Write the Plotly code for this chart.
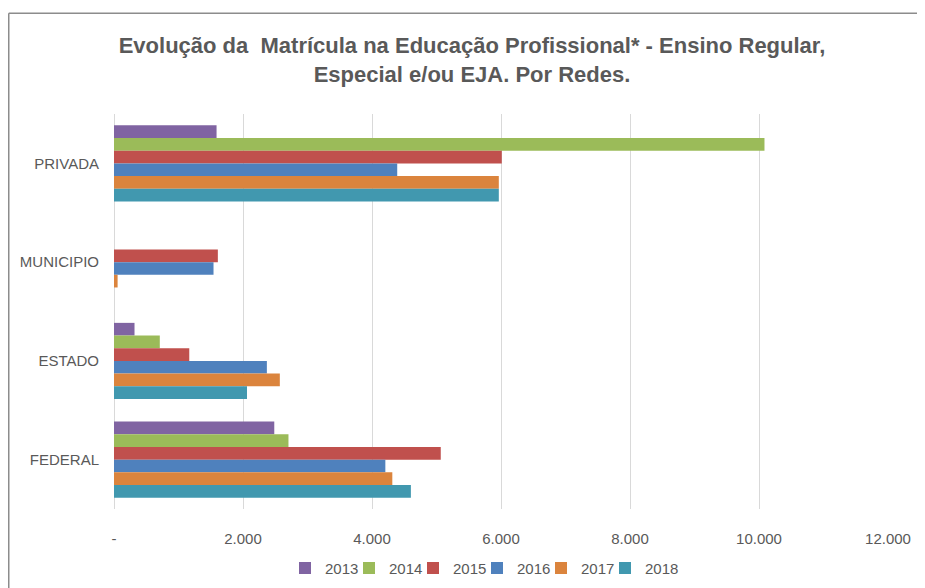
import plotly.graph_objects as go

categories = ["PRIVADA", "MUNICIPIO", "ESTADO", "FEDERAL"]
years = ["2013", "2014", "2015", "2016", "2017", "2018"]
v2013 = [1590, 0, 318, 2485]
v2014 = [10085, 0, 710, 2705]
v2015 = [6012, 1610, 1167, 5066]
v2016 = [4391, 1543, 2370, 4207]
v2017 = [5966, 56, 2571, 4315]
v2018 = [5966, 0, 2062, 4603]
series = [v2013, v2014, v2015, v2016, v2017, v2018]
colors = ["#8064A2", "#9BBB59", "#C0504D", "#4F81BD", "#DB843D", "#4198AF"]
tick_vals = [0, 2000, 4000, 6000, 8000, 10000, 12000]
tick_text = ["-", "2.000", "4.000", "6.000", "8.000", "10.000", "12.000"]

FONT = "Liberation Sans Narrow, Arial Narrow, Liberation Sans, sans-serif"
GREY = "#595959"

fig = go.Figure()
for name, vals, col in zip(years, series, colors):
    fig.add_trace(go.Bar(y=categories, x=vals, name=name, orientation="h",
                         marker=dict(color=col, line=dict(width=0))))
# invisible spacer legend entry (scatter, so it does not take a bar slot)
fig.add_trace(go.Scatter(y=[None], x=[None], name=" ", mode="markers",
                         marker=dict(color="rgba(0,0,0,0)", size=1,
                                     line=dict(width=0, color="rgba(0,0,0,0)")),
                         hoverinfo="skip"))

# page body has an 8px margin; work in figure pixel coordinates (screen - 8)
OFF = 8
W, H = 925 - OFF, 588 - OFF
ml = 114 - OFF
mt = 113.5 - OFF
plot_right = 888 - OFF
plot_bottom = 509.5 - OFF
mr = W - plot_right
mb = H - plot_bottom
pw, ph = plot_right - ml, plot_bottom - mt

def px_x(p):
    return (p - OFF - ml) / pw

def px_y(p):
    return (plot_bottom - (p - OFF)) / ph

fig.update_layout(
    width=W, height=H,
    margin=dict(l=ml, r=mr, t=mt, b=mb, autoexpand=False),
    paper_bgcolor="white", plot_bgcolor="white",
    barmode="group", bargap=0.23, bargroupgap=0,
    font=dict(family=FONT, color=GREY, size=15),
    title=dict(text="<b>Evolução da  Matrícula na Educação Profissional* - Ensino Regular,<br>Especial e/ou EJA. Por Redes.</b>",
               x=(472 - OFF) / W, xanchor="center", y=(H - (53 - OFF)) / H, yanchor="middle",
               font=dict(family=FONT, size=22, color=GREY)),
    xaxis=dict(range=[0, 12000], tickvals=tick_vals, ticktext=tick_text,
               showgrid=True, gridcolor="#D9D9D9", gridwidth=1,
               zeroline=True, zerolinecolor="#D9D9D9", zerolinewidth=1,
               showline=False, ticks="", ticklabelstandoff=19,
               tickfont=dict(size=15, color=GREY)),
    yaxis=dict(autorange="reversed", showgrid=False, showline=False, ticks="",
               ticklabelstandoff=14, tickfont=dict(size=15, color=GREY)),
    legend=dict(orientation="h", x=px_x(285), xanchor="left",
                y=px_y(569), yanchor="middle", traceorder="normal",
                font=dict(size=15, color=GREY), entrywidth=19, entrywidthmode="pixels",
                itemwidth=30),
    showlegend=True,
)

# chart border (top and left visible in the reference)
fig.add_shape(type="line", xref="paper", yref="paper",
              x0=px_x(8.75), x1=px_x(940), y0=px_y(12.5), y1=px_y(12.5),
              line=dict(color="#8C8C8C", width=1.5))
fig.add_shape(type="line", xref="paper", yref="paper",
              x0=px_x(8.75), x1=px_x(8.75), y0=px_y(12.5), y1=px_y(600),
              line=dict(color="#8C8C8C", width=1.5))

fig.write_html("out.html")
